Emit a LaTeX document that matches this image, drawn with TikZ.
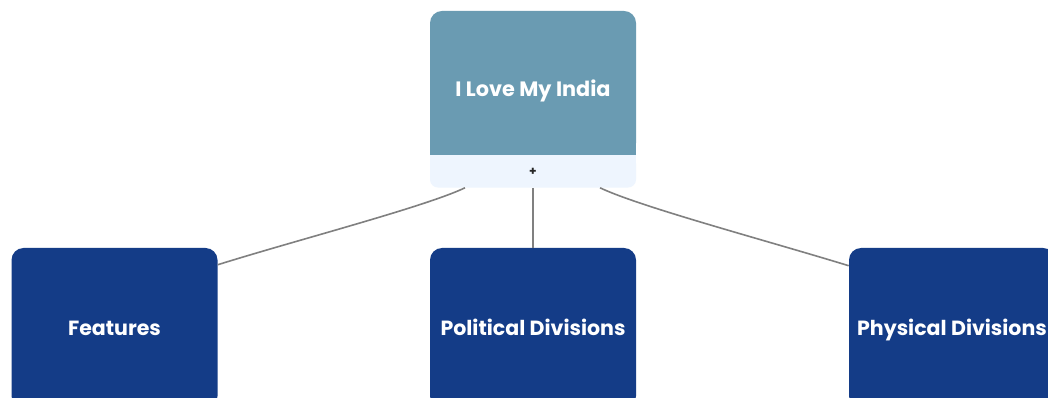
\documentclass[tikz,border=0pt]{standalone}
\usepackage{fontspec}
\setmainfont{Poppins}[UprightFont=* Bold, BoldFont=* Bold]
\usetikzlibrary{positioning,calc}
\definecolor{rootcol}{HTML}{6A9BB2}
\definecolor{barcol}{HTML}{EEF5FE}
\definecolor{childcol}{HTML}{143C87}
\definecolor{linkcol}{HTML}{808080}
\tikzset{
  rootbox/.style={fill=rootcol, rounded corners=9pt, minimum width=154.5pt,
    minimum height=108pt, inner sep=0pt},
  barbox/.style={fill=barcol, rounded corners=6pt, minimum width=154.5pt,
    minimum height=24pt, inner sep=0pt, text=black!85, font=\fontsize{9}{10}\selectfont},
  childbox/.style={fill=childcol, rounded corners=9pt, minimum width=154.5pt,
    minimum height=120pt, inner sep=0pt, text=white, text height=14pt, text depth=3pt,
    font=\fontsize{15.4}{18}\selectfont},
  link/.style={draw=linkcol, line width=1.2pt}
}
\begin{document}
\begin{tikzpicture}[x=0.75pt, y=-0.75pt]
  \useasboundingbox[fill=white] (0,0) rectangle (1048,398);
  % root with its bar
  \node[rootbox] (root) at (533,83) {};
  \node[barbox, below=0pt of root] (bar) {+};
  \fill[rootcol] ($(root.south west)+(0,-14)$) rectangle (root.south east);
  \fill[barcol] (bar.north west) rectangle ($(bar.north east)+(0,10)$);
  \node[text=white, font=\fontsize{15.6}{18}\selectfont, text height=14pt, text depth=3pt]
    (rootlabel) at ($(root.center)+(0,6)$) {I Love My India};
  % children
  \node[childbox] (feat) at (114.5,328) {Features};
  \node[childbox] (pol) at (533,328) {Political Divisions};
  \node[childbox] (phys) at (952,328) {Physical Divisions};
  % links
  \draw[link] ($(bar.south)+(-68,0)$) .. controls +(-40,19) and +(80,-25) .. ($(feat.north east)+(0,17)$);
  \draw[link] (bar.south) -- (pol.north);
  \draw[link] ($(bar.south)+(67,0)$) .. controls +(40,19) and +(-85,-26) .. ($(phys.north west)+(0,18)$);
\end{tikzpicture}
\end{document}
